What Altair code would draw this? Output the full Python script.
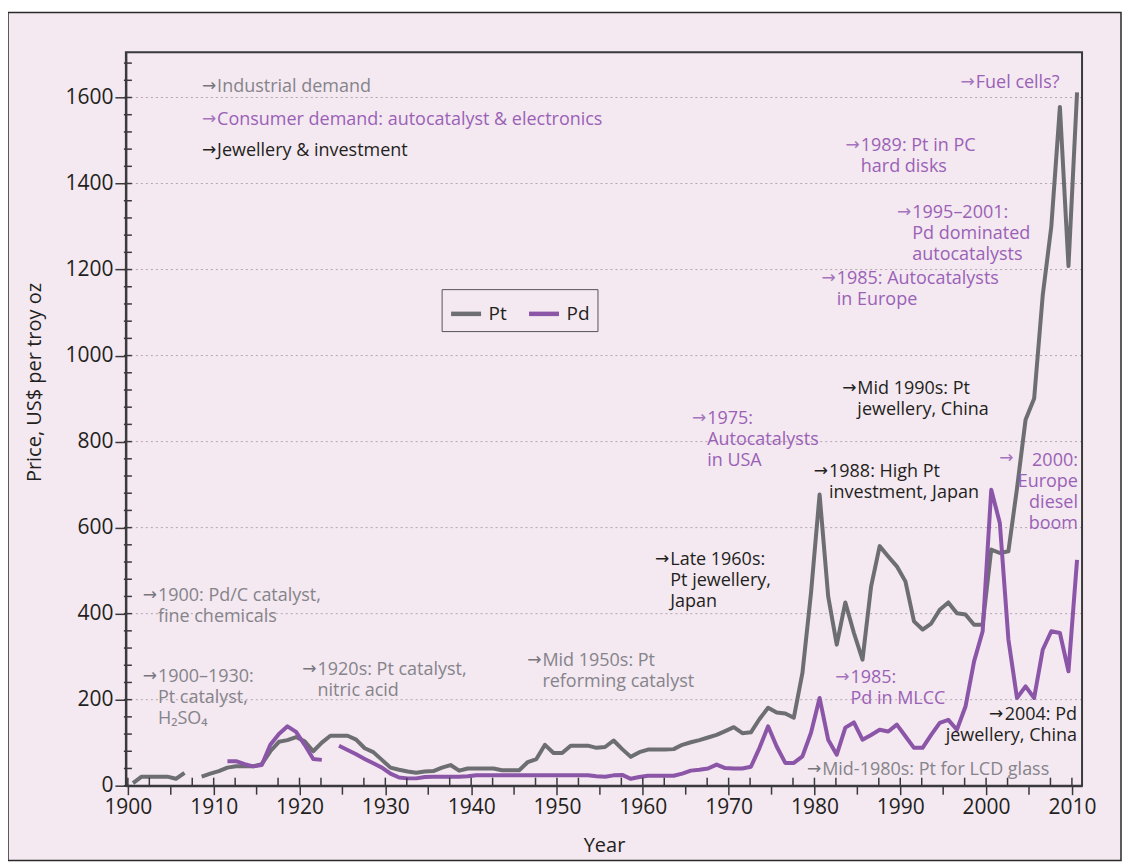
import altair as alt
import pandas as pd

# ---------------- data ----------------
years = list(range(1900, 2011))

pt_price = [
    6, 21, 21, 21, 21, 16, 30, None, 21, 28,            # 1900-1909
    34, 42, 45, 45, 45, 50, 80, 102, 106, 113,          # 1910-1919
    103, 80, 100, 116, 116, 116, 107, 87, 78, 60,       # 1920-1929
    42, 37, 33, 30, 33, 34, 42, 48, 35, 40,             # 1930-1939
    40, 40, 40, 36, 36, 36, 55, 62, 95, 76,             # 1940-1949
    76, 93, 93, 93, 88, 90, 105, 85, 67, 78,            # 1950-1959
    84, 84, 84, 85, 95, 101, 106, 112, 118, 127,        # 1960-1969
    136, 122, 124, 155, 181, 170, 168, 158, 262, 448,   # 1970-1979
    677, 440, 328, 426, 355, 293, 463, 557, 533, 510,   # 1980-1989
    475, 382, 363, 377, 409, 426, 401, 398, 374, 374,   # 1990-1999
    549, 541, 545, 691, 851, 900, 1140, 1300, 1578, 1208,  # 2000-2009
    1612,                                               # 2010
]

pd_price = [
    None, None, None, None, None, None, None, None, None, None,  # 1900-1909
    None, 57, 57, 50, 45, 48, 95, 120, 138, 125,        # 1910-1919
    95, 62, 60, None, 93, 83, 73, 62, 52, 42,           # 1920-1929
    28, 19, 17, 17, 20, 21, 21, 21, 21, 22,             # 1930-1939
    24, 24, 24, 24, 24, 24, 24, 24, 24, 24,             # 1940-1949
    24, 24, 24, 24, 22, 21, 24, 25, 16, 20,             # 1950-1959
    23, 23, 23, 23, 28, 35, 37, 40, 49, 41,             # 1960-1969
    40, 40, 44, 88, 138, 91, 53, 53, 68, 123,           # 1970-1979
    204, 107, 72, 135, 147, 107, 118, 130, 126, 142,    # 1980-1989
    115, 88, 88, 118, 146, 153, 130, 184, 289, 359,     # 1990-1999
    688, 611, 340, 204, 231, 204, 316, 359, 355, 266,   # 2000-2009
    525,                                                # 2010
]

series_names = ["Pt", "Pd"]
series_colors = ["#6d6e72", "#8b55a8"]

x_ticks = [1900, 1910, 1920, 1930, 1940, 1950, 1960, 1970, 1980, 1990, 2000, 2010]
y_ticks = [0, 200, 400, 600, 800, 1000, 1200, 1400, 1600]
y_grid = [200, 400, 600, 800, 1000, 1200, 1400, 1600]

# annotations: text, x (year), y (price), colour group
ann_left_text = [
    "Industrial demand",
    "Consumer demand: autocatalyst & electronics",
    "Jewellery & investment",
    "Fuel cells?",
    "1989: Pt in PC\nhard disks",
    "1995\u20132001:\nPd dominated\nautocatalysts",
    "1985: Autocatalysts\nin Europe",
    "Mid 1990s: Pt\njewellery, China",
    "1975:\nAutocatalysts\nin USA",
    "1988: High Pt\ninvestment, Japan",
    "Late 1960s:\nPt jewellery,\nJapan",
    "1900: Pd/C catalyst,\nfine chemicals",
    "1900\u20131930:\nPt catalyst,\nH\u2082SO\u2084",
    "1920s: Pt catalyst,\nnitric acid",
    "Mid 1950s: Pt\nreforming catalyst",
    "1985:\nPd in MLCC",
    "Mid-1980s: Pt for LCD glass",
]
ann_left_x = [1910.4, 1910.4, 1910.4, 1998.8, 1985.4, 1991.4, 1982.6, 1985.0, 1967.5,
              1981.7, 1963.2, 1903.5, 1903.5, 1922.1, 1948.3, 1984.2, 1980.9]
ann_left_y = [1612, 1537, 1463, 1623, 1476, 1319, 1166, 910, 841,
              718, 513, 430, 241, 258, 279, 239, 25]
ann_left_kind = ["gray", "purple", "black", "purple", "purple", "purple", "purple", "black", "purple",
                 "black", "black", "gray", "gray", "gray", "gray", "purple", "gray"]

ann_right_text = ["2000:\nEurope\ndiesel\nboom", "2004: Pd\njewellery, China"]
ann_right_x = [2010.7, 2010.6]
ann_right_y = [743, 153]
ann_right_kind = ["purple", "black"]

# arrows: one in front of each left-aligned note, plus the two right-aligned notes
arrow_x = ann_left_x + [2003.3, 2002.1]
arrow_y = ann_left_y + [748, 153]
arrow_kind = ann_left_kind + ["purple", "black"]

kind_colors = {"gray": "#85848a", "purple": "#9a62b6", "black": "#231f20"}
arrow_colors = {"gray": "#77767c", "purple": "#a574bd", "black": "#231f20"}

FONT = "Open Sans"
BG = "#f4e8f1"
W, H = 957, 734

# ---------------- tables ----------------
rows = []
for yr, a, b in zip(years, pt_price, pd_price):
    rows.append({"year": yr, "metal": "Pt", "price": a})
    if yr >= 1911:
        rows.append({"year": yr, "metal": "Pd", "price": b})
lines_df = pd.DataFrame(rows)

xs = alt.Scale(domain=[1899.77, 2011.18], nice=False, zero=False)
ys = alt.Scale(domain=[0, 1705], nice=False, zero=False)

x_axis = alt.Axis(values=x_ticks, format="d", grid=False, domainColor="#3a3a3c", domainWidth=2,
                  tickColor="#3a3a3c", tickWidth=1.5, tickSize=9, labelFont=FONT, labelFontSize=21,
                  labelColor="#231f20", labelPadding=2, title="Year", titleFont=FONT,
                  titleFontSize=20, titleFontWeight="normal", titleColor="#231f20",
                  titleY=66, titleBaseline="alphabetic", zindex=1)
y_axis = alt.Axis(values=y_ticks, format="d", grid=False, domainColor="#3a3a3c", domainWidth=2,
                  tickColor="#3a3a3c", tickWidth=1.5, tickSize=11, labelFont=FONT, labelFontSize=21,
                  labelColor="#231f20", labelPadding=2, title="Price, US$ per troy oz",
                  titleFont=FONT, titleFontSize=20, titleFontWeight="normal", titleColor="#231f20",
                  titleX=-91, titleY=330, titleBaseline="middle", titleAlign="center", zindex=1)

one = pd.DataFrame({"k": [0]})

background = alt.Chart(one).mark_rect(fill=BG, stroke="#2a2a2a", strokeWidth=1.5).encode(
    x=alt.value(-118), x2=alt.value(996), y=alt.value(-40), y2=alt.value(809)
)

grid = alt.Chart(pd.DataFrame({"v": y_grid})).mark_rule(
    color="#b3a6b1", strokeWidth=1, strokeDash=[2, 3]
).encode(
    y=alt.Y("v:Q", scale=ys, axis=y_axis), x=alt.value(0), x2=alt.value(W)
)

lines = alt.Chart(lines_df).transform_calculate(
    xpos="datum.year + 0.6"
).mark_line(strokeWidth=4, invalid="break-paths-show-domains", strokeJoin="round").encode(
    x=alt.X("xpos:Q", scale=xs, axis=x_axis),
    y=alt.Y("price:Q", scale=ys, axis=y_axis),
    color=alt.Color("metal:N", scale=alt.Scale(domain=series_names, range=series_colors),
                    sort=series_names,
                    legend=alt.Legend(title=None, orient="none", legendX=316, legendY=237,
                                      direction="horizontal", symbolType="stroke", symbolSize=900,
                                      symbolStrokeWidth=4.5, labelFont=FONT, labelFontSize=19,
                                      labelColor="#231f20", strokeColor="#555555", padding=7,
                                      columnPadding=12, labelOffset=5)),
    detail="metal:N",
)

# minor ticks
x_up = [v / 2 for v in range(3800, 4023, 5) if (v / 2) % 10 != 5]
x_down = [v for v in range(1905, 2010, 10)]
y_in = [v for v in range(0, 1705, 40)]

tick_up = alt.Chart(pd.DataFrame({"t": x_up})).mark_rule(color="#3a3a3c", strokeWidth=1.5).encode(
    x=alt.X("t:Q", scale=xs), y=alt.value(H - 8), y2=alt.value(H))
tick_down = alt.Chart(pd.DataFrame({"t": x_down})).mark_rule(color="#3a3a3c", strokeWidth=1.5).encode(
    x=alt.X("t:Q", scale=xs), y=alt.value(H), y2=alt.value(H + 9))
tick_y = alt.Chart(pd.DataFrame({"t": y_in})).mark_rule(color="#3a3a3c", strokeWidth=1.5).encode(
    y=alt.Y("t:Q", scale=ys), x=alt.value(-2), x2=alt.value(6))

frame = alt.Chart(one).mark_rect(fill="transparent", stroke="#3a3a3c", strokeWidth=2).encode(
    x=alt.value(0), x2=alt.value(W), y=alt.value(0), y2=alt.value(H))

left_df = pd.DataFrame({"text": ann_left_text, "x": ann_left_x, "y": ann_left_y, "kind": ann_left_kind})
right_df = pd.DataFrame({"text": ann_right_text, "x": ann_right_x, "y": ann_right_y, "kind": ann_right_kind})
arrow_df = pd.DataFrame({"x": arrow_x, "y": arrow_y, "kind": arrow_kind})

text_layers = []
for kind, col in kind_colors.items():
    text_layers.append(
        alt.Chart(left_df[left_df.kind == kind]).mark_text(
            align="left", baseline="alphabetic", font=FONT, fontSize=18, lineBreak="\n",
            lineHeight=21, color=col).encode(
            x=alt.X("x:Q", scale=xs), y=alt.Y("y:Q", scale=ys), text="text:N"))
    text_layers.append(
        alt.Chart(right_df[right_df.kind == kind]).mark_text(
            align="right", baseline="alphabetic", font=FONT, fontSize=18, lineBreak="\n",
            lineHeight=21, color=col).encode(
            x=alt.X("x:Q", scale=xs), y=alt.Y("y:Q", scale=ys), text="text:N"))
    text_layers.append(
        alt.Chart(arrow_df[arrow_df.kind == kind]).mark_text(
            align="right", baseline="alphabetic", font="DejaVu Sans", fontSize=17, dx=-1, dy=-1,
            color=arrow_colors[kind], text="\u2192").encode(
            x=alt.X("x:Q", scale=xs), y=alt.Y("y:Q", scale=ys)))

chart = alt.layer(background, grid, lines, tick_up, tick_down, tick_y, frame, *text_layers).properties(
    width=W, height=H,
    padding={"left": 118, "top": 44, "right": 41, "bottom": 77},
    autosize="none",
    background="white",
).configure_view(stroke="transparent")

chart.save("out.html", embed_options={"renderer": "svg", "actions": False})
